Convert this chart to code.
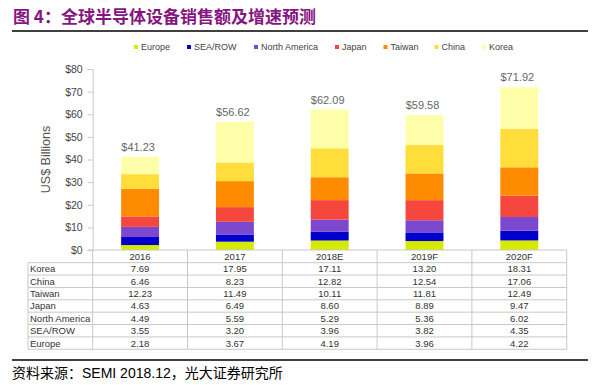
<!DOCTYPE html>
<html>
<head>
<meta charset="utf-8">
<script src="https://cdn.jsdelivr.net/npm/d3@7"></script>
<style>
  body { margin: 0; background: #fff; }
  text { font-family: 'Liberation Sans', Arial, sans-serif; }
  .cjk { font-family: 'Noto Sans CJK SC', sans-serif; }
</style>
</head>
<body>
<div id="chart"></div>
<script>
const years = ['2016', '2017', '2018E', '2019F', '2020F']
const regions = ['Europe', 'SEA/ROW', 'North America', 'Japan', 'Taiwan', 'China', 'Korea']
const europe = [2.18, 3.67, 4.19, 3.96, 4.22]
const seaRow = [3.55, 3.2, 3.96, 3.82, 4.35]
const northAmerica = [4.49, 5.59, 5.29, 5.36, 6.02]
const japan = [4.63, 6.49, 8.6, 8.89, 9.47]
const taiwan = [12.23, 11.49, 10.11, 11.81, 12.49]
const china = [6.46, 8.23, 12.82, 12.54, 17.06]
const korea = [7.69, 17.95, 17.11, 13.2, 18.31]
const totals = [41.23, 56.62, 62.09, 59.58, 71.92]
const yTicks = [0, 10, 20, 30, 40, 50, 60, 70, 80]

const seriesValues = [europe, seaRow, northAmerica, japan, taiwan, china, korea]
const colors = ['#d6ea00', '#0000cc', '#7c48d0', '#f5473d', '#ff8c00', '#ffdd3a', '#ffffaa']

const width = 600
const height = 385

const svg = d3
  .select('#chart')
  .append('svg')
  .attr('width', width)
  .attr('height', height)

// title + rules
svg
  .append('text')
  .attr('class', 'cjk')
  .attr('x', 13)
  .attr('y', 23)
  .attr('font-size', 17)
  .attr('font-weight', 'bold')
  .attr('fill', '#86167f')
  .text('图 4：全球半导体设备销售额及增速预测')

svg
  .append('line')
  .attr('x1', 12)
  .attr('x2', 588)
  .attr('y1', 31)
  .attr('y2', 31)
  .attr('stroke', '#000')
  .attr('stroke-width', 1.3)

svg
  .append('line')
  .attr('x1', 12)
  .attr('x2', 588)
  .attr('y1', 360)
  .attr('y2', 360)
  .attr('stroke', '#000')
  .attr('stroke-width', 1.3)

const source = svg
  .append('text')
  .attr('x', 12)
  .attr('y', 378)
  .attr('font-size', 14)
  .attr('fill', '#000')
source.append('tspan').attr('class', 'cjk').text('资料来源：')
source.append('tspan').text('SEMI 2018.12')
source.append('tspan').attr('class', 'cjk').text('，光大证券研究所')

// scales
const xPositionScale = d3
  .scaleBand()
  .domain(years)
  .range([92.7, 566.7])
  .paddingInner(0)
  .paddingOuter(0)

const yPositionScale = d3
  .scaleLinear()
  .domain([0, 80])
  .range([250, 69])

const barWidth = xPositionScale.bandwidth() * 0.4

// data table for stack
const table = years.map((year, i) => {
  const row = { year: year, total: totals[i] }
  regions.forEach((r, j) => {
    row[r] = seriesValues[j][i]
  })
  return row
})

const stacked = d3.stack().keys(regions)(table)

// y axis
const yAxis = d3
  .axisLeft(yPositionScale)
  .tickValues(yTicks)
  .tickSize(5)
  .tickPadding(5)
  .tickFormat(d => '$' + d)

const yAxisG = svg
  .append('g')
  .attr('class', 'axis y-axis')
  .attr('transform', 'translate(92.7,0)')
  .call(yAxis)

yAxisG.select('.domain').attr('stroke', '#c8c8c8')
yAxisG.selectAll('line').attr('stroke', '#c8c8c8')
yAxisG
  .selectAll('text')
  .attr('font-size', 10.5)
  .attr('fill', '#444')
  .style('font-family', "'Liberation Sans', Arial, sans-serif")

svg
  .append('text')
  .attr('transform', 'translate(50,' + yPositionScale(40) + ') rotate(-90)')
  .attr('text-anchor', 'middle')
  .attr('font-size', 12.5)
  .attr('fill', '#555')
  .text('US$ Billions')

// bars
svg
  .append('g')
  .selectAll('g')
  .data(stacked)
  .enter()
  .append('g')
  .attr('fill', (d, i) => colors[i])
  .selectAll('rect')
  .data(d => d)
  .enter()
  .append('rect')
  .attr('x', d => xPositionScale(d.data.year) + (xPositionScale.bandwidth() - barWidth) / 2)
  .attr('y', d => yPositionScale(d[1]))
  .attr('width', barWidth)
  .attr('height', d => yPositionScale(d[0]) - yPositionScale(d[1]))

// totals
svg
  .selectAll('.total')
  .data(table)
  .enter()
  .append('text')
  .attr('class', 'total')
  .attr('x', d => xPositionScale(d.year) + xPositionScale.bandwidth() / 2 - 2)
  .attr('y', d => yPositionScale(d.total) - 6)
  .attr('text-anchor', 'middle')
  .attr('font-size', 11)
  .attr('fill', '#666')
  .text(d => '$' + d.total.toFixed(2))

// legend
const legendX = [136, 189, 256, 337, 385.5, 436.5, 484]
const legend = svg
  .append('g')
  .selectAll('g')
  .data(regions)
  .enter()
  .append('g')
  .attr('transform', (d, i) => 'translate(' + legendX[i] + ',47)')
legend
  .append('rect')
  .attr('x', -2)
  .attr('y', -2)
  .attr('width', 4)
  .attr('height', 4)
  .attr('fill', (d, i) => colors[i])
legend
  .append('text')
  .attr('x', 5)
  .attr('y', 3.3)
  .attr('font-size', 9)
  .attr('fill', '#444')
  .text(d => d)

// data table under axis
const rowTop = 262.7
const rowH = 12.37
const tableLeft = 28
const tableRight = 566.7
const tableRows = regions.slice().reverse()
const tableBottom = rowTop + rowH * tableRows.length

const grid = svg.append('g').attr('stroke', '#c8c8c8').attr('stroke-width', 1)

grid
  .append('line')
  .attr('x1', 88)
  .attr('x2', tableRight)
  .attr('y1', 250)
  .attr('y2', 250)

d3.range(tableRows.length + 1).forEach(i => {
  grid
    .append('line')
    .attr('x1', tableLeft)
    .attr('x2', tableRight)
    .attr('y1', rowTop + i * rowH)
    .attr('y2', rowTop + i * rowH)
})

grid
  .append('line')
  .attr('x1', tableLeft)
  .attr('x2', tableLeft)
  .attr('y1', rowTop)
  .attr('y2', tableBottom)

years.concat(['end']).forEach((y, i) => {
  const x = i < years.length ? xPositionScale(y) : tableRight
  grid
    .append('line')
    .attr('x1', x)
    .attr('x2', x)
    .attr('y1', 250)
    .attr('y2', tableBottom)
})

svg
  .selectAll('.year-label')
  .data(years)
  .enter()
  .append('text')
  .attr('class', 'year-label')
  .attr('x', d => xPositionScale(d) + xPositionScale.bandwidth() / 2)
  .attr('y', 259.5)
  .attr('text-anchor', 'middle')
  .attr('font-size', 9.5)
  .attr('fill', '#333')
  .text(d => d)

tableRows.forEach((r, i) => {
  const values = seriesValues[regions.indexOf(r)]
  const y = rowTop + i * rowH + 9.6
  svg
    .append('text')
    .attr('x', tableLeft + 2)
    .attr('y', y)
    .attr('font-size', 9.5)
    .attr('fill', '#333')
    .text(r)
  years.forEach((yr, j) => {
    svg
      .append('text')
      .attr('x', xPositionScale(yr) + xPositionScale.bandwidth() / 2)
      .attr('y', y)
      .attr('text-anchor', 'middle')
      .attr('font-size', 9.5)
      .attr('fill', '#333')
      .text(values[j].toFixed(2))
  })
})
</script>
</body>
</html>
